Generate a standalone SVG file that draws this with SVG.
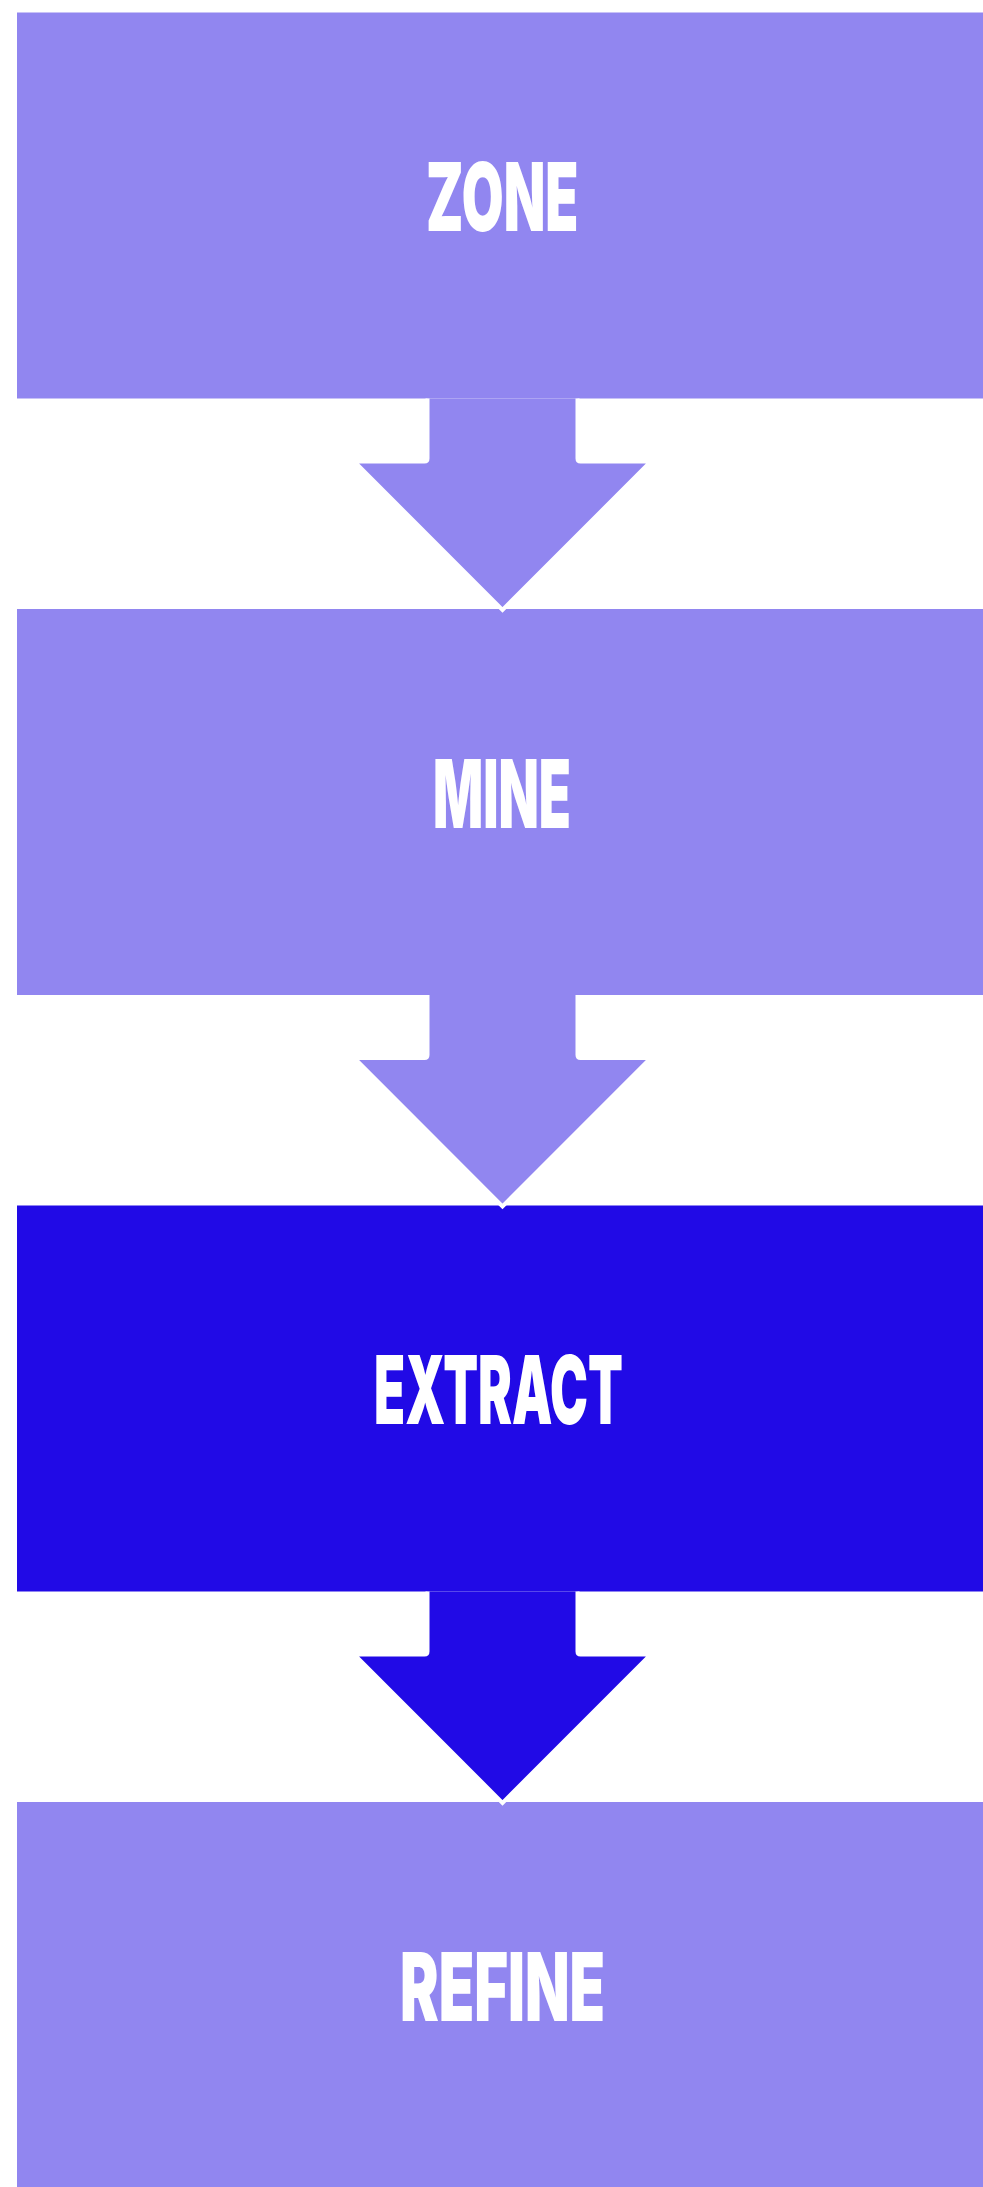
<svg xmlns="http://www.w3.org/2000/svg" width="983" height="2187" viewBox="0 0 983 2187">
  <style>
    .light { fill: #9186f0; }
    .dark { fill: #210ae6; }
    .arrow { stroke: #ffffff; stroke-width: 4; stroke-linejoin: miter; stroke-miterlimit: 10; }
    .label { fill: #ffffff; font-family: "Inter", "Liberation Sans", "DejaVu Sans", sans-serif; font-weight: 900; font-size: 95px; }
  </style>
  <rect width="983" height="2187" fill="#ffffff"/>
  <g id="node-zone">
    <rect class="light" x="17" y="12.5" width="1000" height="386"/>
    <text class="label" x="426" y="231" textLength="152.5" lengthAdjust="spacingAndGlyphs">ZONE</text>
  </g>
  <g id="node-mine">
    <rect class="light" x="17" y="609" width="1000" height="386"/>
    <text class="label" x="433" y="827.5" textLength="138" lengthAdjust="spacingAndGlyphs">MINE</text>
  </g>
  <g id="node-extract">
    <rect class="dark" x="17" y="1205.5" width="1000" height="386"/>
    <text class="label" x="374" y="1424" textLength="249" lengthAdjust="spacingAndGlyphs">EXTRACT</text>
  </g>
  <g id="node-refine">
    <rect class="light" x="17" y="1802" width="1000" height="400"/>
    <text class="label" x="400" y="2020.5" textLength="205" lengthAdjust="spacingAndGlyphs">REFINE</text>
  </g>
  <g id="connectors">
    <path class="arrow light" d="M427.5 398.5 V458.5 Q427.5 461.5 424.5 461.5 H354.2 L502.5 609.8 L650.8 461.5 H580.5 Q577.5 461.5 577.5 458.5 V398.5"/>
    <path class="arrow light" d="M427.5 995 V1055 Q427.5 1058 424.5 1058 H354.2 L502.5 1206.3 L650.8 1058 H580.5 Q577.5 1058 577.5 1055 V995"/>
    <path class="arrow dark" d="M427.5 1591.5 V1651.5 Q427.5 1654.5 424.5 1654.5 H354.2 L502.5 1802.8 L650.8 1654.5 H580.5 Q577.5 1654.5 577.5 1651.5 V1591.5"/>
  </g>
</svg>
